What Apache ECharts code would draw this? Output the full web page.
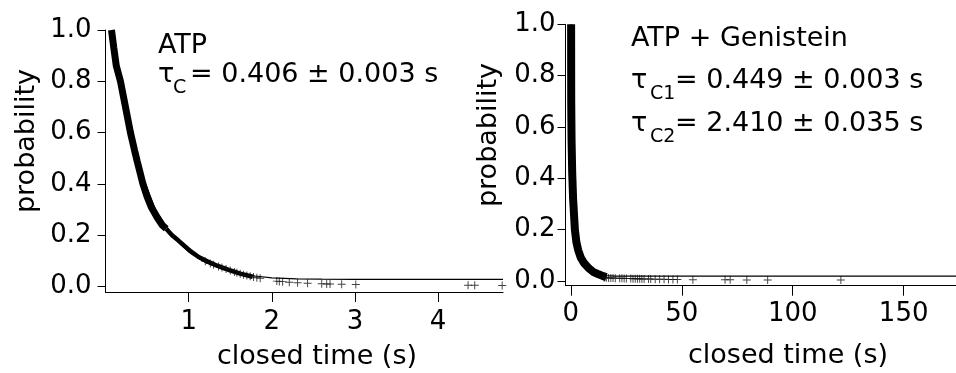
<!DOCTYPE html>
<html><head><meta charset="utf-8">
<script src="https://cdn.jsdelivr.net/npm/echarts@6/dist/echarts.min.js"></script>
<style>html,body{margin:0;padding:0;background:#fff}#c{width:956px;height:373px}</style>
</head><body><div id="c"></div>
<script>
// ---- Left panel (ATP) ----
var atpDense = [[0.072,1.0],[0.10,0.93],[0.13,0.86],[0.18,0.80],[0.24,0.70],[0.30,0.60],[0.35,0.53],[0.38,0.49],[0.45,0.40],[0.50,0.35],[0.55,0.31],[0.62,0.27],[0.68,0.24],[0.73,0.225]];
var atpMid = [[0.73,0.225],[0.80,0.20],[0.87,0.181],[0.95,0.158],[1.03,0.136],[1.12,0.115],[1.23,0.097],[1.35,0.080],[1.49,0.064],[1.62,0.050],[1.77,0.038]];
var atpTail = [[1.20,0.098],[1.26,0.090],[1.30,0.085],[1.36,0.078],[1.40,0.074],[1.45,0.068],[1.50,0.062],[1.55,0.057],[1.58,0.054],[1.62,0.050],[1.66,0.046],[1.70,0.043],[1.74,0.040],[1.78,0.037],[1.82,0.034],[1.86,0.032],[2.06,0.021],[2.09,0.020],[2.13,0.019],[2.21,0.017],[2.31,0.015],[2.43,0.013],[2.60,0.011],[2.66,0.010],[2.70,0.010],[2.84,0.009],[3.01,0.008],[4.36,0.005],[4.44,0.005],[4.77,0.004]];
var atpFit = [[0.072,0.99],[0.2,0.74],[0.4,0.47],[0.6,0.30],[0.8,0.20],[1.0,0.135],[1.2,0.095],[1.4,0.068],[1.6,0.052],[1.8,0.041],[2.0,0.034],[2.3,0.030],[2.6,0.029],[3.0,0.028],[4.78,0.028]];
// ---- Right panel (ATP + Genistein) ----
var genDense = [[0.1,1.0],[0.12,0.85],[0.15,0.70],[0.3,0.55],[0.6,0.42],[1.0,0.32],[1.8,0.20],[2.5,0.15],[3.3,0.12],[4.5,0.09],[6,0.069],[8,0.050],[10,0.036],[12.5,0.026],[14.5,0.019],[16,0.015]];
var genTail = [[15,0.013],[16,0.013],[17,0.012],[18,0.012],[19,0.012],[20,0.011],[22,0.011],[23,0.011],[24,0.010],[25,0.010],[27,0.010],[28,0.009],[29,0.009],[30,0.009],[31,0.009],[32,0.008],[33,0.008],[35,0.008],[36,0.008],[38,0.007],[40,0.007],[42,0.007],[44,0.006],[46,0.006],[48,0.006],[55,0.005],[69.5,0.005],[71.8,0.005],[79.3,0.004],[88.7,0.004],[121.7,0.004]];
var genFit = [[0.1,1.0],[0.5,0.60],[1,0.38],[2,0.19],[4,0.10],[6,0.07],[8,0.05],[10,0.037],[13,0.026],[16,0.021],[20,0.019],[173.6,0.019]];
var yTicks = [0, 0.2, 0.4, 0.6, 0.8, 1.0];
var xTicksL = [1, 2, 3, 4];
var xTicksR = [0, 50, 100, 150];

var FONT = 'DejaVu Sans';
var plus = 'path://M4.4,0h1.2v4.4h4.4v1.2h-4.4v4.4h-1.2v-4.4h-4.4v-1.2h4.4z';
function xAx(idx, min, max, ticks, margin) {
  return {type:'value', gridIndex:idx, min:min, max:max,
    axisLine:{onZero:false, lineStyle:{color:'#000', width:1}},
    axisTick:{customValues:ticks, length:10, lineStyle:{color:'#000'}},
    axisLabel:{customValues:ticks, margin:margin, color:'#000', fontFamily:FONT, fontSize:26},
    splitLine:{show:false}};
}
function yAx(idx, min, margin) {
  return {type:'value', gridIndex:idx, min:min, max:1,
    axisLine:{onZero:false, show:true, lineStyle:{color:'#000', width:1}},
    axisTick:{customValues:yTicks, length:8, lineStyle:{color:'#000'}},
    axisLabel:{customValues:yTicks, margin:margin, color:'#000', fontFamily:FONT, fontSize:26,
      formatter:function(v){return v.toFixed(1);}},
    splitLine:{show:false}};
}
var chart = echarts.init(document.getElementById('c'));
var txt = function(x, y, s, size, extra) {
  var o = {type:'text', x:x, y:y, style:{text:s, fill:'#000', font: size + 'px "' + FONT + '"', textVerticalAlign:'middle'}};
  if (extra) for (var k in extra) o.style[k] = extra[k];
  return o;
};
chart.setOption({
  animation:false,
  grid:[{left:105.5, right:453, top:30, bottom:81},{left:565.5, right:0, top:24.3, bottom:87.3}],
  xAxis:[xAx(0, 0, 4.78, xTicksL, 17), xAx(1, -2.43, 173.6, xTicksR, 16)],
  yAxis:[yAx(0, -0.0214, 14), yAx(1, -0.0183, 10)],
  series:[
    {type:'line', xAxisIndex:0, yAxisIndex:0, data:atpFit, showSymbol:false, lineStyle:{color:'#000', width:1.2}, z:3},
    {type:'line', xAxisIndex:0, yAxisIndex:0, data:atpDense, showSymbol:false, lineStyle:{color:'#000', width:7}, z:2},
    {type:'line', xAxisIndex:0, yAxisIndex:0, data:atpMid, showSymbol:false, lineStyle:{color:'#000', width:4.5}, z:2},
    {type:'scatter', xAxisIndex:0, yAxisIndex:0, data:atpTail, symbol:plus, symbolSize:8, itemStyle:{color:'#111'}, z:2},
    {type:'line', xAxisIndex:1, yAxisIndex:1, data:genFit, showSymbol:false, lineStyle:{color:'#000', width:1.2}, z:3},
    {type:'line', xAxisIndex:1, yAxisIndex:1, data:genDense, showSymbol:false, lineStyle:{color:'#000', width:8}, z:2},
    {type:'scatter', xAxisIndex:1, yAxisIndex:1, data:genTail, symbol:plus, symbolSize:8, itemStyle:{color:'#111'}, z:2}
  ],
  graphic:[
    txt(317, 357, 'closed time (s)', 27, {textAlign:'center'}),
    txt(788, 356, 'closed time (s)', 27, {textAlign:'center'}),
    {type:'text', x:27, y:141, rotation:Math.PI/2, style:{text:'probability', fill:'#000', font:'27px "'+FONT+'"', textAlign:'center', textVerticalAlign:'middle'}},
    {type:'text', x:489, y:135, rotation:Math.PI/2, style:{text:'probability', fill:'#000', font:'27px "'+FONT+'"', textAlign:'center', textVerticalAlign:'middle'}},
    txt(158, 46, 'ATP', 27),
    txt(158, 75, 'τ', 27),
    txt(173, 88, 'C', 19),
    txt(190, 75, '= 0.406 ± 0.003 s', 27),
    txt(631, 39, 'ATP + Genistein', 27),
    txt(631, 81, 'τ', 27),
    txt(650, 94, 'C1', 19),
    txt(675, 81, '= 0.449 ± 0.003 s', 27),
    txt(631, 124, 'τ', 27),
    txt(650, 137, 'C2', 19),
    txt(675, 124, '= 2.410 ± 0.035 s', 27)
  ]
});
</script></body></html>
